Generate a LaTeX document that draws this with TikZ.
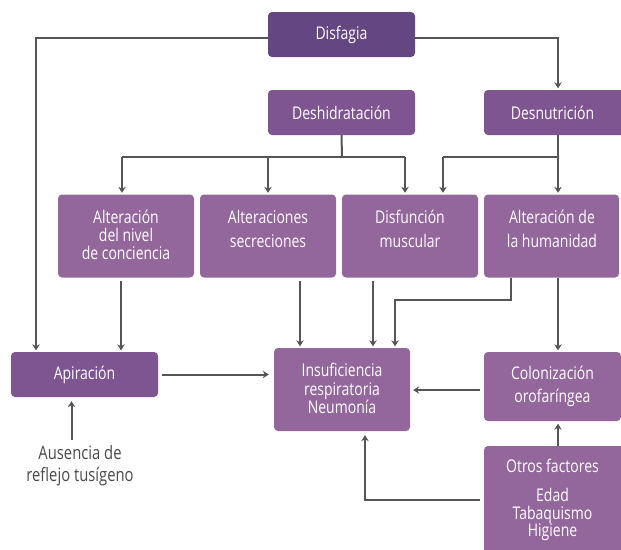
\documentclass[tikz,border=0pt]{standalone}
\usepackage{fontspec}
\setmainfont[FakeStretch=0.8]{Open Sans}
\usetikzlibrary{arrows.meta}
\definecolor{cdark}{HTML}{634682}
\definecolor{cmid}{HTML}{7E5590}
\definecolor{clight}{HTML}{93679B}
\definecolor{cline}{HTML}{555555}
\definecolor{ctext}{HTML}{4A4A4A}
\begin{document}
\begin{tikzpicture}[x=1pt,y=-1pt,
  box/.style={rounded corners=4pt, inner sep=0pt, draw=none},
  txt/.style={text=white, align=center, inner sep=0pt},
  fs/.style={font=\fontsize{17.5}{#1}\selectfont},
  conn/.style={draw=cline, line width=2pt, -{Stealth[length=6pt,width=7.5pt]}, shorten >=1.5pt},
  seg/.style={draw=cline, line width=2pt}]
\useasboundingbox (0,0) rectangle (621,549);
\fill[white] (0,0) rectangle (621,549);

% boxes
\node[box, fill=cdark, minimum width=147pt, minimum height=45pt] (dis) at (341.5,34.5) {};
\node[box, fill=cmid, minimum width=147pt, minimum height=45pt] (desh) at (341.5,112.5) {};
\node[box, fill=clight, minimum width=136pt, minimum height=83pt] (alt1) at (126,236) {};
\node[box, fill=clight, minimum width=136pt, minimum height=83pt] (alt2) at (268,236) {};
\node[box, fill=clight, minimum width=136pt, minimum height=83pt] (disf) at (410,236) {};
\node[box, fill=clight, minimum width=135pt, minimum height=83pt] (hum) at (551.5,236) {};
\node[box, fill=cmid, minimum width=147pt, minimum height=45pt] (apir) at (84.5,374.5) {};
\node[box, fill=clight, minimum width=136pt, minimum height=83pt] (insuf) at (342,389.5) {};
\begin{scope}
\clip (0,0) rectangle (621,549);
\node[box, fill=cmid, minimum width=141pt, minimum height=45pt] (desn) at (554.5,112.5) {};
\node[box, fill=clight, minimum width=137pt, minimum height=69pt] (colon) at (552.5,386.5) {};
\node[box, fill=clight, minimum width=141pt, minimum height=110pt] (otros) at (554.5,501) {};
\end{scope}

% texts
\node[txt, fs=19] (tdis) at (dis.center) {Disfagia};
\node[txt, fs=19] (tdesh) at (desh.center) {Deshidratación};
\node[txt, fs=19] (tdesn) at (552.5,112.5) {Desnutrición};
\node[txt, fs=18] (talt1) at (126,234.5) {Alteración\\del nivel\\de conciencia};
\node[txt, fs=23.5] (talt2) at (268,229) {Alteraciones\\secreciones};
\node[txt, fs=23.5] (tdisf) at (410,229) {Disfunción\\muscular};
\node[txt, fs=23.5] (thum) at (552,229) {Alteración de\\la humanidad};
\node[txt, fs=19] (tapir) at (apir.center) {Apiración};
\node[txt, fs=18.3] (tinsuf) at (342,388.5) {Insuficiencia\\respiratoria\\Neumonía};
\node[txt, fs=22.3] (tcolon) at (552.5,386.5) {Colonización\\orofaríngea};
\node[txt, fs=19] (totros1) at (552.5,466) {Otros factores};
\node[txt, fs=17.7] (totros2) at (552.5,514.5) {Edad\\Tabaquismo\\Higiene};
\node[txt, font=\fontsize{18.5}{21.7}\selectfont, text=ctext] (aus) at (80,466) {Ausencia de\\reflejo tusígeno};

% coordinates for bends
\coordinate (bL) at (122,157);
\coordinate (bM) at (342,157);
\coordinate (bR) at (405,157);
\coordinate (cL) at (443,157);
\coordinate (cJ) at (558,157);
\coordinate (hB) at (511,300);
\coordinate (hC) at (395,300);
\coordinate (oB) at (365,499.5);
\coordinate (aT) at (71.5,440);

% connectors
\draw[conn] ([yshift=-3.5pt]dis.west) -| ([xshift=-48.5pt]apir.north);
\draw[conn] ([yshift=-3pt]dis.east) -| (cJ |- desn.north);

\draw[seg] (desh.south) -- (bM);
\draw[seg] (bL) -- (bR);
\draw[conn] (bL) -- (bL |- alt1.north);
\draw[conn] (alt2.north |- bL) -- (alt2.north);
\draw[conn] (bR) -- (bR |- disf.north);

\draw[seg] (cJ |- desn.south) -- (cJ);
\draw[seg] (cL) -- (cJ);
\draw[conn] (cL) -- (cL |- disf.north);
\draw[conn] (cJ) -- (cJ |- hum.north);

\draw[conn, shorten <=3.5pt] ([xshift=-5pt]alt1.south) -- ([xshift=-5pt]alt1.south |- apir.north);
\draw[conn, shorten <=3.5pt] ([xshift=32pt]alt2.south) -- ([xshift=32pt]alt2.south |- insuf.north);
\draw[conn, shorten <=3.5pt] ([xshift=-37pt]disf.south) -- ([xshift=-37pt]disf.south |- insuf.north);
\draw[conn] (hB |- hum.south) -- (hB) -- (hC) -- (hC |- insuf.north);
\draw[conn] (cJ |- hum.south) -- (cJ |- colon.north);

\draw[conn, shorten <=3.5pt, shorten >=5pt] (apir.east) -- (insuf.west |- apir.east);
\draw[conn, shorten <=3.5pt, shorten >=3pt] ([yshift=-3.5pt]colon.west) -- ([yshift=-3.5pt]colon.west -| insuf.east);
\draw[conn, shorten >=2.5pt] (cJ |- otros.north) -- (cJ |- colon.south);
\draw[conn, shorten <=3.5pt, shorten >=4pt] (otros.west |- oB) -- (oB) -- (oB |- insuf.south);
\draw[conn, shorten >=4pt] (aT) -- (aT |- apir.south);
\end{tikzpicture}
\end{document}
